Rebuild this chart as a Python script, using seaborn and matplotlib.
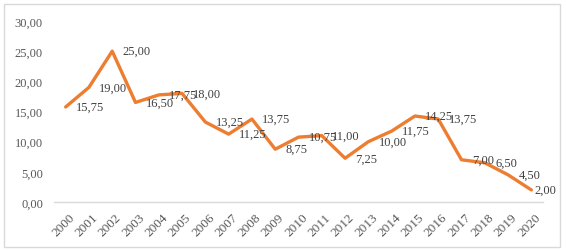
import matplotlib
matplotlib.use('Agg')
import matplotlib.pyplot as plt
import matplotlib.transforms as mtransforms
from matplotlib.patches import Rectangle
from matplotlib.ticker import FuncFormatter
import pandas as pd
import seaborn as sns

years = [str(y) for y in range(2000, 2021)]
values = [15.75, 19.00, 25.00, 16.50, 17.75, 18.00, 13.25, 11.25, 13.75, 8.75,
          10.75, 11.00, 7.25, 10.00, 11.75, 14.25, 13.75, 7.00, 6.50, 4.50, 2.00]

df = pd.DataFrame({'year': years, 'value': values})
df['pos'] = range(len(df))

sns.set_style('white')
plt.rcParams['font.family'] = ['Liberation Serif', 'DejaVu Serif']

fig = plt.figure(figsize=(5.66, 2.51), dpi=100)
ax = fig.add_axes([54 / 566, 1 - 203 / 251, 489 / 566, 181 / 251])

sns.lineplot(data=df, x='pos', y='value', color='#ED7D31', linewidth=2.4, ax=ax)

# data labels to the right of each point (last one pulled in so it stays inside the frame)
for p, v in zip(df['pos'], df['value']):
    off = 2 if p == df['pos'].iloc[-1] else 7.5
    ax.annotate(f"{v:.2f}".replace('.', ','), (p, v), xytext=(off, 0),
                textcoords='offset points', ha='left', va='center',
                fontsize=9, color='#404040')

ax.set_xlim(-0.5, len(years) - 0.5)
ax.set_ylim(0, 30)
ax.set_yticks(range(0, 31, 5))
ax.yaxis.set_major_formatter(FuncFormatter(lambda v, _: f"{v:.2f}".replace('.', ',')))
ax.set_xticks(df['pos'])
ax.set_xticklabels(years, rotation=45, ha='right', rotation_mode='anchor')
ax.tick_params(axis='both', length=0, labelcolor='#595959')
ax.tick_params(axis='y', pad=8, labelsize=9)
ax.tick_params(axis='x', pad=6.5, labelsize=9.5)
shift = mtransforms.ScaledTranslation(3 / 100, 0, fig.dpi_scale_trans)
for lbl in ax.get_xticklabels():
    lbl.set_transform(lbl.get_transform() + shift)
ax.set_xlabel('')
ax.set_ylabel('')

for s in ['top', 'right', 'left']:
    ax.spines[s].set_visible(False)
ax.spines['bottom'].set_color('#d9d9d9')
ax.spines['bottom'].set_linewidth(1)

# chart border
fig.patches.append(Rectangle((4 / 566, 3 / 251), 556 / 566, 243 / 251, transform=fig.transFigure,
                             fill=False, edgecolor='#d9d9d9', linewidth=1))

fig.savefig('out.png', dpi=100)
